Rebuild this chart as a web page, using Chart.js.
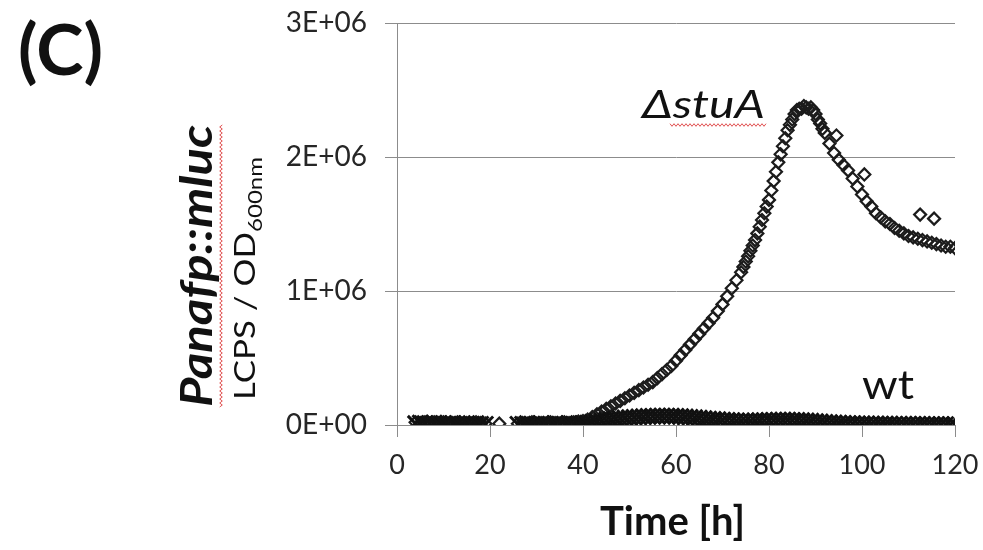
<!DOCTYPE html>
<html>
<head>
<meta charset="utf-8">
<script src="https://cdn.jsdelivr.net/npm/chart.js@4"></script>
<style>
  html, body { margin: 0; padding: 0; background: #fff; }
  #wrap { width: 983px; height: 550px; position: relative; }
</style>
</head>
<body>
<div id="wrap"><canvas id="main"></canvas></div>
<script>
// time points (h) and luminescence values
const stuATimes = [
  4, 5, 6, 7, 8, 9, 10, 11, 12, 13, 14, 15, 16, 17, 18, 19,
  22,
  26, 27, 28, 29, 30, 31, 32, 33, 34, 35, 36, 37, 38, 39, 40,
  41, 42, 43, 44, 45, 46, 47, 48, 49, 50, 51, 52, 53, 54, 55, 56, 57, 58, 59, 60,
  61, 62, 63, 64, 65, 66, 67, 68, 69, 70, 71, 72, 73,
  74, 74.5, 75, 75.5, 76, 76.5, 77, 77.5, 78, 78.5, 79, 79.5, 80, 80.5, 81, 81.5,
  82, 82.5, 83, 83.5, 84, 84.5, 85, 85.5, 86, 86.5, 87, 87.5, 88, 88.5, 89, 89.5,
  90, 90.5, 91, 91.5, 92,
  93, 94, 94.5, 95, 96, 97, 98, 99, 100, 100.5, 101, 102, 103, 104, 105, 106, 107,
  108, 109, 110, 111, 112, 112.5, 113, 114, 115, 115.5, 116, 117, 118, 119, 120
];
const stuAValues = [
  2.0e4, 1.5e4, 2.0e4, 1.0e4, 2.0e4, 1.5e4, 2.0e4, 1.0e4, 1.5e4, 2.0e4, 1.0e4, 1.5e4, 1.0e4, 2.0e4, 1.5e4, 1.0e4,
  1.0e4,
  1.0e4, 1.5e4, 1.0e4, 2.0e4, 1.0e4, 1.5e4, 1.0e4, 2.0e4, 1.5e4, 1.0e4, 2.0e4, 1.5e4, 2.0e4, 2.5e4, 3.0e4,
  0.04e6, 0.06e6, 0.08e6, 0.10e6, 0.12e6, 0.14e6, 0.16e6, 0.18e6, 0.20e6, 0.22e6, 0.24e6, 0.26e6, 0.28e6, 0.30e6, 0.32e6, 0.35e6, 0.38e6, 0.41e6, 0.44e6, 0.48e6,
  0.52e6, 0.56e6, 0.60e6, 0.64e6, 0.68e6, 0.72e6, 0.76e6, 0.80e6, 0.85e6, 0.90e6, 0.96e6, 1.02e6, 1.08e6,
  1.14e6, 1.18e6, 1.22e6, 1.26e6, 1.30e6, 1.34e6, 1.38e6, 1.43e6, 1.48e6, 1.53e6, 1.58e6, 1.63e6, 1.68e6, 1.75e6, 1.82e6, 1.89e6,
  1.96e6, 2.02e6, 2.08e6, 2.14e6, 2.20e6, 2.24e6, 2.28e6, 2.32e6, 2.35e6, 2.36e6, 2.36e6, 2.38e6, 2.37e6, 2.36e6, 2.37e6, 2.35e6,
  2.32e6, 2.28e6, 2.25e6, 2.21e6, 2.18e6,
  2.10e6, 2.03e6, 2.16e6, 1.98e6, 1.94e6, 1.90e6, 1.84e6, 1.78e6, 1.72e6, 1.87e6, 1.67e6, 1.63e6, 1.58e6, 1.55e6, 1.52e6, 1.50e6, 1.47e6,
  1.45e6, 1.43e6, 1.41e6, 1.40e6, 1.39e6, 1.57e6, 1.38e6, 1.37e6, 1.36e6, 1.54e6, 1.35e6, 1.34e6, 1.33e6, 1.33e6, 1.32e6
];

const wtTimes = [
  4, 5, 6, 7, 8, 9, 10, 11, 12, 13, 14, 15, 16, 17, 18, 19,
  26, 27, 28, 29, 30, 31, 32, 33, 34, 35, 36, 37, 38, 39, 40,
  41, 42, 43, 44, 45, 46, 47, 48, 49, 50, 51, 52, 53, 54, 55, 56, 57, 58, 59, 60,
  61, 62, 63, 64, 65, 66, 67, 68, 69, 70, 71, 72, 73, 74, 75, 76, 77, 78, 79, 80,
  81, 82, 83, 84, 85, 86, 87, 88, 89, 90, 91, 92, 93, 94, 95, 96, 97, 98, 99, 100,
  101, 102, 103, 104, 105, 106, 107, 108, 109, 110, 111, 112, 113, 114, 115, 116, 117, 118, 119, 120
];
const wtValues = [
  1.0e4, 1.5e4, 1.0e4, 1.0e4, 1.5e4, 1.0e4, 1.0e4, 0.5e4, 1.0e4, 1.0e4, 0.5e4, 1.0e4, 0.5e4, 1.0e4, 0.5e4, 0.5e4,
  0.5e4, 0.5e4, 1.0e4, 0.5e4, 0.5e4, 1.0e4, 0.5e4, 0.5e4, 1.0e4, 0.5e4, 0.5e4, 1.0e4, 0.5e4, 1.0e4, 1.0e4,
  1.5e4, 2.0e4, 2.5e4, 3.0e4, 3.5e4, 4.0e4, 4.5e4, 5.0e4, 5.3e4, 5.6e4, 5.8e4, 6.0e4, 6.2e4, 6.4e4, 6.5e4, 6.6e4, 6.7e4, 6.7e4, 6.6e4, 6.5e4,
  6.3e4, 6.0e4, 5.8e4, 5.5e4, 5.2e4, 4.8e4, 4.5e4, 4.2e4, 4.0e4, 3.7e4, 3.5e4, 3.3e4, 3.1e4, 3.0e4, 3.0e4, 3.0e4, 3.1e4, 3.2e4, 3.3e4, 3.4e4,
  3.5e4, 3.6e4, 3.6e4, 3.6e4, 3.5e4, 3.4e4, 3.3e4, 3.1e4, 2.9e4, 2.6e4, 2.3e4, 2.0e4, 1.8e4, 1.6e4, 1.4e4, 1.2e4, 1.1e4, 1.0e4, 0.9e4, 0.8e4,
  0.8e4, 0.7e4, 0.7e4, 0.6e4, 0.6e4, 0.6e4, 0.5e4, 0.5e4, 0.5e4, 0.5e4, 0.5e4, 0.5e4, 0.5e4, 0.4e4, 0.4e4, 0.4e4, 0.4e4, 0.4e4, 0.4e4, 0.4e4
];

const xTicks = [0, 20, 40, 60, 80, 100, 120];
const yTicks = [0, 1e6, 2e6, 3e6];

const FONT = 'Lato, "Open Sans", sans-serif';

const toPoints = (ts, vs) => ts.map((t, i) => ({ x: t, y: vs[i] }));

// Excel-style "3E+06"
const sci = (v) => {
  if (v === 0) return '0E+00';
  const e = Math.floor(Math.log10(v));
  return Math.round(v / Math.pow(10, e)) + 'E+' + String(e).padStart(2, '0');
};

const wavy = (ctx, x0, y0, x1, y1) => {
  // red zigzag like a spell-check underline
  const len = Math.hypot(x1 - x0, y1 - y0);
  const ux = (x1 - x0) / len, uy = (y1 - y0) / len;
  const nx = -uy, ny = ux;
  ctx.save();
  ctx.strokeStyle = '#e05050';
  ctx.lineWidth = 1;
  ctx.beginPath();
  let s = 0, k = 0;
  while (s <= len) {
    const o = (k % 2 === 0 ? -1.3 : 1.3);
    const px = x0 + ux * s + nx * o, py = y0 + uy * s + ny * o;
    if (k === 0) ctx.moveTo(px, py); else ctx.lineTo(px, py);
    s += 2; k++;
  }
  ctx.stroke();
  ctx.restore();
};

// draw text from (x, y) baseline-left, squeezed/stretched to width w
const fitText = (ctx, text, x, y, w) => {
  const m = ctx.measureText(text).width;
  ctx.save();
  ctx.translate(x, y);
  ctx.scale(w / m, 1);
  ctx.textAlign = 'left';
  ctx.textBaseline = 'alphabetic';
  ctx.fillText(text, 0, 0);
  ctx.restore();
};

const labels = {
  id: 'labels',
  afterDraw(chart) {
    const ctx = chart.ctx;
    ctx.save();
    ctx.fillStyle = '#111';

    ctx.font = 'bold 70px ' + FONT;
    fitText(ctx, '(C)', 18, 75, 85);

    ctx.font = 'italic 39px ' + FONT;
    fitText(ctx, '\u0394stuA', 642, 118, 123);
    wavy(ctx, 670, 125, 767, 125);

    ctx.font = '40px ' + FONT;
    fitText(ctx, 'wt', 862, 399, 52);

    ctx.font = 'bold 41px ' + FONT;
    fitText(ctx, 'Time [h]', 600, 535, 145);

    // y titles, rotated
    ctx.save();
    ctx.translate(212, 407);
    ctx.rotate(-Math.PI / 2);
    ctx.font = 'bold italic 44px ' + FONT;
    fitText(ctx, 'Panafp::mluc', 0, 0, 282);
    ctx.restore();
    wavy(ctx, 221, 407, 221, 125);

    ctx.save();
    ctx.translate(255, 400);
    ctx.rotate(-Math.PI / 2);
    ctx.font = '28px ' + FONT;
    fitText(ctx, 'LCPS / OD', 0, 0, 168);
    ctx.font = '20px ' + FONT;
    fitText(ctx, '600nm', 168, 7, 75);
    ctx.restore();

    ctx.restore();
  }
};

new Chart(document.getElementById('main'), {
  type: 'scatter',
  data: {
    datasets: [
      {
        label: 'wt',
        data: toPoints(wtTimes, wtValues),
        pointStyle: 'crossRot',
        pointRadius: 11,
        pointBorderWidth: 3,
        borderColor: '#111',
        backgroundColor: '#111',
        order: 1
      },
      {
        label: '\u0394stuA',
        data: toPoints(stuATimes, stuAValues),
        pointStyle: 'rectRot',
        pointRadius: 6,
        pointBorderWidth: 2.2,
        borderColor: '#1c1c1c',
        backgroundColor: 'rgba(255,255,255,0)',
        order: 2
      }
    ]
  },
  options: {
    responsive: true,
    maintainAspectRatio: false,
    animation: false,
    layout: { padding: { top: 23, right: 28, left: 0, bottom: 0 } },
    plugins: {
      legend: { display: false },
      tooltip: { enabled: false }
    },
    scales: {
      x: {
        type: 'linear',
        min: 0,
        max: 120,
        afterBuildTicks: (s) => { s.ticks = xTicks.map(v => ({ value: v })); },
        afterFit: (s) => { s.height = 125; s.paddingLeft = 0; s.paddingRight = 0; },
        ticks: { color: '#262626', font: { family: FONT, size: 27 }, padding: 12, maxRotation: 0 },
        grid: { drawOnChartArea: false, drawTicks: true, tickLength: 12, color: '#8c8c8c' },
        border: { display: true, color: '#8c8c8c', width: 1 }
      },
      y: {
        min: 0,
        max: 3e6,
        afterBuildTicks: (s) => { s.ticks = yTicks.map(v => ({ value: v })); },
        afterFit: (s) => { s.width = 397; s.paddingTop = 0; s.paddingBottom = 0; },
        ticks: { color: '#262626', font: { family: FONT, size: 28 }, padding: 18, callback: (v) => sci(v) },
        grid: { color: '#8c8c8c', tickLength: 12, lineWidth: 1 },
        border: { display: true, color: '#8c8c8c', width: 1 }
      }
    }
  },
  plugins: [labels]
});
</script>
</body>
</html>
